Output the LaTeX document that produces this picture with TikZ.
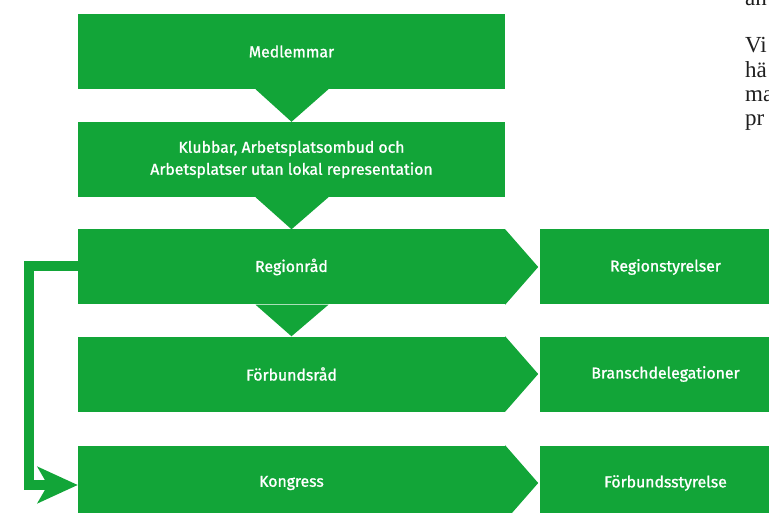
\documentclass[tikz,border=0pt]{standalone}
\usepackage{fontspec}
\setmainfont{Liberation Serif}
\newfontfamily\boxfont[FakeBold=1.2]{Fira Sans}
\usetikzlibrary{arrows.meta}
\definecolor{fgreen}{RGB}{18,165,56}
\tikzset{
  box/.style={rectangle, fill=fgreen, draw=none, inner sep=0pt, minimum height=75pt, text=white, font=\boxfont\fontsize{15.8}{22}\selectfont, align=center},
  mainbox/.style={box, minimum width=427pt},
  sidebox/.style={box, minimum width=251pt},
  chev/.style={fill=fgreen, draw=none},
  conn/.style={draw=fgreen, line width=10pt, line join=miter, -{Stealth[length=40pt, width=36pt, inset=10pt]}},
  page/.style={anchor=base west, font=\fontsize{23}{24}\selectfont, text=black!88, inner sep=0pt}
}
\begin{document}
\begin{tikzpicture}[x=1pt, y=-1pt]
\clip (0,0) rectangle (769,513);
\fill[white] (0,0) rectangle (769,513);
% main column
\node[mainbox] (med) at (291.5,51.5) {Medlemmar};
\node[mainbox] (klu) at (291.5,159.5) {Klubbar, Arbetsplatsombud och\\Arbetsplatser utan lokal representation};
\node[mainbox] (reg) at (291.5,267) {Regionråd};
\node[mainbox] (fbr) at (291.5,374) {Förbundsråd};
\node[mainbox] (kon) at (291.5,483) {Kongress};
% side column
\node[sidebox] (rst) at (665.5,267) {Regionstyrelser};
\node[sidebox] (bra) at (665.5,374) {Branschdelegationer};
\node[sidebox] (fst) at (665.5,483) {Förbundsstyrelse};
% down triangles
\fill[chev] ([xshift=-36pt]med.south) -- ([xshift=37pt]med.south) -- (klu.north) -- cycle;
\fill[chev] ([xshift=-36pt]klu.south) -- ([xshift=37pt]klu.south) -- (reg.north) -- cycle;
\fill[chev] ([xshift=-36pt]reg.south) -- ([xshift=37pt]reg.south) -- (fbr.north) -- cycle;
% right chevrons
\fill[chev] (reg.north east) -- ([xshift=33pt]reg.east) -- (reg.south east) -- cycle;
\fill[chev] (fbr.north east) -- ([xshift=33pt]fbr.east) -- (fbr.south east) -- cycle;
\fill[chev] (kon.north east) -- ([xshift=33pt]kon.east) -- (kon.south east) -- cycle;
% connector
\draw[conn] ([yshift=1pt]reg.west) -- ++(-49,0) |- ([yshift=-2pt]kon.west);
% page text fragments
\node[page] (t1) at (745,6) {an};
\node[page] (t2) at (745,53) {Vi};
\node[page] (t3) at (745,78) {hä};
\node[page] (t4) at (745,102) {ma};
\node[page] (t5) at (745,126) {pr};
\end{tikzpicture}
\end{document}
